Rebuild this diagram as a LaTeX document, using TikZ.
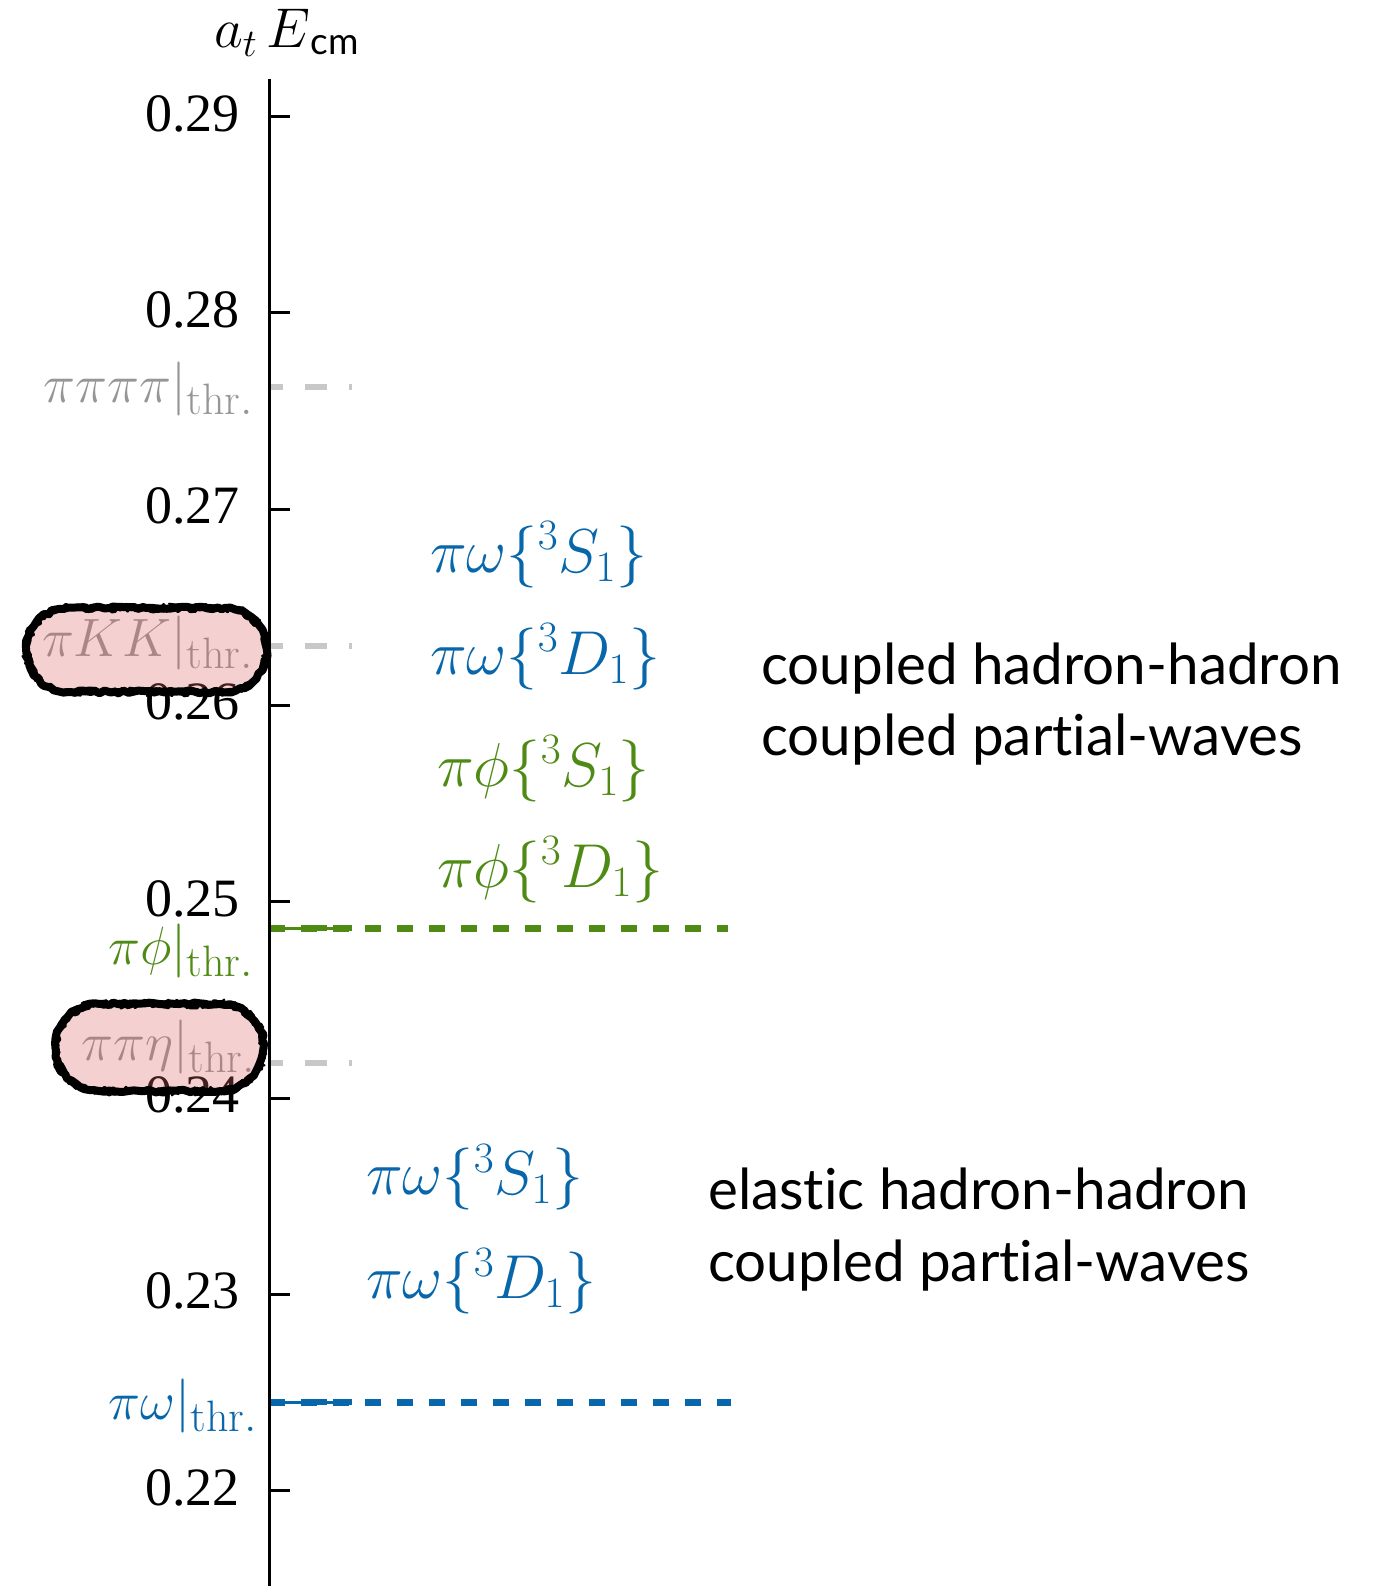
\RequirePackage{fix-cm}
\documentclass[tikz,border=0pt]{standalone}
\usepackage{fontspec}
\setsansfont{Lato}[Ligatures=NoCommon]
\newfontfamily\tickfont{Liberation Serif}
\DeclareMathSizes{54}{54}{44}{32}
\usetikzlibrary{decorations.pathmorphing,shapes.misc}
\definecolor{pwblue}{RGB}{8,102,170}
\definecolor{phgreen}{RGB}{78,138,20}
\definecolor{thgray}{RGB}{200,200,200}
\definecolor{lblgray}{RGB}{150,150,150}
\definecolor{hlfill}{RGB}{220,100,100}
\begin{document}
\begin{tikzpicture}[x=1pt,y=-1pt,
  ticklbl/.style={anchor=east, inner sep=0pt, font=\tickfont\fontsize{54}{60}\selectfont},
  thrlbl/.style={anchor=east, inner sep=0pt, font=\fontsize{54}{60}\selectfont},
  pwlbl/.style={anchor=west, inner sep=0pt, font=\fontsize{62}{70}\selectfont},
  txtlbl/.style={anchor=base west, inner sep=0pt, font=\sffamily\fontsize{56.5}{70}\selectfont},
  axisline/.style={line width=3pt},
  thrshort/.style={line width=6pt, dash pattern=on 22pt off 22pt, dash phase=8pt},
  thrlong/.style={line width=7pt, dash pattern=on 16pt off 16pt},
  hlbox/.style={rounded rectangle, inner sep=0pt, fill=hlfill, fill opacity=0.3, draw, draw opacity=1, line width=8pt,
    line join=round, decorate, decoration={random steps, segment length=5pt, amplitude=1.5pt}},
  hlstroke/.style={rounded rectangle, inner sep=0pt, draw, line width=3pt, line join=round,
    decorate, decoration={random steps, segment length=3pt, amplitude=2.5pt}},
  hlstrokeb/.style={rounded rectangle, inner sep=0pt, draw, line width=2pt, line join=round,
    decorate, decoration={random steps, segment length=2.5pt, amplitude=3pt}}
]
\useasboundingbox (0,0) rectangle (1375,1586);
\pgfmathsetseed{11}

% axis
\coordinate (axtop) at (269,79);
\coordinate (axbot) at (269,1586);

% gray thresholds
\coordinate (p4a) at (269,386.5); \coordinate (p4b) at (352,386.5);
\draw[thrshort, thgray] (p4a) -- (p4b);
\coordinate (kka) at (269,645.5); \coordinate (kkb) at (352,645.5);
\draw[thrshort, thgray] (kka) -- (kkb);
\coordinate (etaa) at (269,1063); \coordinate (etab) at (352,1063);
\draw[thrshort, thgray] (etaa) -- (etab);

% pi phi threshold
\coordinate (phia) at (269,928); \coordinate (phib) at (352,928); \coordinate (phic) at (728,928);
\draw[thrshort, phgreen] (phia) -- (phib);
\draw[line width=3pt, phgreen] (phia) -- (phib);
\draw[thrlong, phgreen] (phia) -- (phic);

% pi omega threshold
\coordinate (oma) at (269,1402); \coordinate (omb) at (352,1402); \coordinate (omc) at (731,1402);
\draw[thrshort, pwblue] (oma) -- (omb);
\draw[line width=3pt, pwblue] (oma) -- (omb);
\draw[thrlong, pwblue] (oma) -- (omc);

\draw[axisline] (axtop) -- (axbot);
\node[anchor=base west, inner sep=0pt, font=\fontsize{56}{60}\selectfont] (axlbl) at (214,48)
  {$a_t\,E$\raisebox{-7pt}{\sffamily\fontsize{37}{40}\selectfont cm}};

% ticks
\foreach \lab/\yy [count=\i] in {0.29/116.5,0.28/312.8,0.27/509.1,0.26/705.4,0.25/901.7,0.24/1098,0.23/1294.3,0.22/1490.6}{
  \coordinate (ta\i) at (269,\yy);
  \coordinate (tb\i) at (290,\yy);
  \draw[axisline] (ta\i) -- (tb\i);
  \node[ticklbl] (tick\i) at (240,\yy-3) {\lab};
}

% threshold labels
\node[thrlbl, text=lblgray] (l4pi) at (253,389) {$\pi\pi\pi\pi|_{\mathrm{thr.}}$};
\node[thrlbl, text=lblgray] (lkk) at (253,643) {$\pi K K|_{\mathrm{thr.}}$};
\node[thrlbl, text=phgreen] (lphi) at (253,951) {$\pi\phi|_{\mathrm{thr.}}$};
\node[thrlbl, text=lblgray] (leta) at (255,1047) {$\pi\pi\eta|_{\mathrm{thr.}}$};
\node[thrlbl, text=pwblue] (lom) at (257,1406) {$\pi\omega|_{\mathrm{thr.}}$};

% partial-wave labels
\node[pwlbl, text=pwblue] (pwS) at (430,555) {$\pi\omega\{{}^3S_1\}$};
\node[pwlbl, text=pwblue] (pwD) at (430,657) {$\pi\omega\{{}^3D_1\}$};
\node[pwlbl, text=phgreen] (phS) at (437,769) {$\pi\phi\{{}^3S_1\}$};
\node[pwlbl, text=phgreen] (phD) at (437,870) {$\pi\phi\{{}^3D_1\}$};
\node[pwlbl, text=pwblue] (elS) at (366,1177) {$\pi\omega\{{}^3S_1\}$};
\node[pwlbl, text=pwblue] (elD) at (366,1281) {$\pi\omega\{{}^3D_1\}$};

% text
\node[txtlbl] (c1) at (761,684) {coupled hadron-hadron};
\node[txtlbl] (c2) at (761,755) {coupled partial-waves};
\node[txtlbl] (e1) at (708,1209) {elastic hadron-hadron};
\node[txtlbl] (e2) at (708,1281) {coupled partial-waves};

% highlight boxes
\node[hlbox, minimum width=240pt, minimum height=84pt] (kkbox) at (146.5,650) {};
\node[hlstroke, minimum width=237pt, minimum height=81pt] (kkbox2) at (146.5,650) {};
\node[hlstrokeb, minimum width=243pt, minimum height=87pt] (kkbox3) at (146.5,650) {};
\node[hlbox, minimum width=208pt, minimum height=87pt] (etabox) at (159.5,1047.5) {};
\node[hlstroke, minimum width=205pt, minimum height=84pt] (etabox2) at (159.5,1047.5) {};
\node[hlstrokeb, minimum width=211pt, minimum height=90pt] (etabox3) at (159.5,1047.5) {};
\end{tikzpicture}
\end{document}
